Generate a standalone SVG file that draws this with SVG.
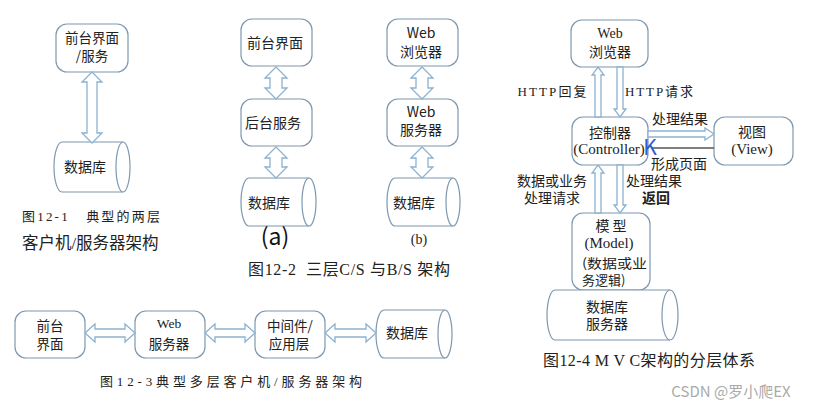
<svg xmlns="http://www.w3.org/2000/svg" width="814" height="410" viewBox="0 0 814 410">
<style>
.box{fill:#fff;stroke:#7d98b0;stroke-width:1.2}
.cyl{fill:#fff;stroke:#7d98b0;stroke-width:1.2}
.arr{fill:#fff;stroke:#8db2d0;stroke-width:1.3;stroke-linejoin:miter}
.ln{fill:none;stroke:#555;stroke-width:1.3}
text{font-family:"Noto Sans CJK SC","Liberation Sans",sans-serif;fill:#222;text-anchor:middle}
.t{font-size:14px}
.u{font-size:13.5px}
.s{font-family:"Liberation Serif","Noto Sans CJK SC",serif}
.cap{font-family:"Liberation Serif","Noto Sans CJK SC",serif;text-anchor:start;white-space:pre}
</style>
<rect width="814" height="410" fill="#fff"/>

<!-- Figure 12-1 -->
<g id="f1-front"><rect class="box" x="56" y="24" width="72" height="48" rx="11"/>
<text class="u" x="92" y="43">前台界面</text><text class="u" x="92" y="61">/服务</text></g>
<g id="f1-db"><path class="cyl" d="M62,142 L123,142 A7,25 0 0 1 123,192 L62,192 A8,25 0 0 1 62,142 Z"/>
<path class="cyl" fill="none" d="M123,142 A7,25 0 0 0 123,192"/>
<text class="t" x="85" y="172">数据库</text></g>
<text class="cap" x="22" y="221" font-size="13" xml:space="preserve" textLength="138" lengthAdjust="spacing">图12-1   典型的两层</text>
<text class="cap" x="22" y="249" font-size="16.5">客户机/服务器架构</text>

<!-- Figure 12-2a -->
<g id="f2a-front"><rect class="box" x="241" y="19" width="71" height="47" rx="11"/><text class="t" x="275" y="48">前台界面</text></g>
<g id="f2a-back"><rect class="box" x="241" y="99" width="71" height="47" rx="11"/><text class="t" x="273" y="128">后台服务</text></g>
<g id="f2a-db"><path class="cyl" d="M249,178 L309,178 A7,24 0 0 1 309,226 L249,226 A8,24 0 0 1 249,178 Z"/>
<path class="cyl" fill="none" d="M309,178 A7,24 0 0 0 309,226"/><text class="t" x="269" y="208">数据库</text></g>
<text x="275" y="245" font-size="23" font-family="Liberation Sans,sans-serif" style="fill:#111">(a)</text>

<!-- Figure 12-2b -->
<g id="f2b-browser"><rect class="box" x="387" y="19" width="71" height="47" rx="11"/>
<text class="t" x="421" y="38" font-family="Liberation Sans,sans-serif">Web</text><text class="t" x="421" y="57">浏览器</text></g>
<g id="f2b-server"><rect class="box" x="387" y="99" width="71" height="47" rx="11"/>
<text class="t" x="421" y="117" font-family="Liberation Sans,sans-serif">Web</text><text class="t" x="421" y="135">服务器</text></g>
<g id="f2b-db"><path class="cyl" d="M395,178 L453,178 A7,24 0 0 1 453,226 L395,226 A8,24 0 0 1 395,178 Z"/>
<path class="cyl" fill="none" d="M453,178 A7,24 0 0 0 453,226"/><text class="t" x="414" y="208">数据库</text></g>
<text class="s" x="419" y="244" font-size="14">(b)</text>
<text class="cap" x="248" y="275" font-size="16" xml:space="preserve" textLength="202" lengthAdjust="spacing">图12-2  三层C/S 与B/S 架构</text>

<!-- Figure 12-3 -->
<g id="f3-front"><rect class="box" x="15" y="311" width="70" height="47" rx="11"/>
<text class="u" x="50" y="331">前台</text><text class="u" x="50" y="349">界面</text></g>
<g id="f3-web"><rect class="box" x="135" y="311" width="70" height="47" rx="11"/>
<text class="u s" x="169" y="328">Web</text><text class="u" x="169" y="349">服务器</text></g>
<g id="f3-mid"><rect class="box" x="255" y="311" width="70" height="47" rx="11"/>
<text class="u" x="290" y="331">中间件/</text><text class="u" x="289" y="349">应用层</text></g>
<g id="f3-db"><path class="cyl" d="M384,310 L445,310 A7,24 0 0 1 445,358 L384,358 A8,24 0 0 1 384,310 Z"/>
<path class="cyl" fill="none" d="M445,310 A7,24 0 0 0 445,358"/><text class="t" x="407" y="338">数据库</text></g>
<text class="cap" x="100" y="386" font-size="13" textLength="262" lengthAdjust="spacing">图12-3典型多层客户机/服务器架构</text>

<!-- Figure 12-4 MVC -->
<g id="mvc-browser"><rect class="box" x="571" y="20" width="77" height="47" rx="11"/>
<text class="t s" x="610" y="38" font-size="15">Web</text><text class="t" x="610" y="57">浏览器</text></g>
<g id="mvc-controller"><rect class="box" x="572" y="117" width="76" height="48" rx="11"/>
<text class="t" x="610" y="138">控制器</text><text class="s" x="609" y="154" font-size="15">(Controller)</text></g>
<g id="mvc-view"><rect class="box" x="714" y="117" width="79" height="48" rx="11"/>
<text class="t" x="752" y="137">视图</text><text class="s" x="752" y="154" font-size="15">(View)</text></g>
<g id="mvc-model"><rect class="box" x="572" y="213" width="78" height="77" rx="11"/>
<text class="t" x="611" y="231">模 型</text><text class="s" x="609" y="248" font-size="15">(Model)</text>
<text x="582" y="268" font-size="13" style="text-anchor:start" textLength="65" lengthAdjust="spacingAndGlyphs">(数据或业</text><text x="582" y="285" font-size="13" style="text-anchor:start">务逻辑)</text></g>
<g id="mvc-db"><path class="cyl" d="M555,290 L670,290 A8,25 0 0 1 670,340 L555,340 A8,25 0 0 1 555,290 Z"/>
<path class="cyl" fill="none" d="M670,290 A8,25 0 0 0 670,340"/>
<text class="t" x="607" y="312">数据库</text><text class="t" x="607" y="329">服务器</text></g>

<g id="connectors">
<!-- 12-1 -->
<polygon class="arr" points="92,72 102,82 97,82 97,133 102,133 92,143 82,133 87,133 87,82 82,82"/>
<!-- 12-2a -->
<polygon class="arr" points="276,67 287,78 282,78 282,88 287,88 276,99 265,88 270,88 270,78 265,78"/>
<polygon class="arr" points="276,147 287,158 282,158 282,167 287,167 276,178 265,167 270,167 270,158 265,158"/>
<!-- 12-2b -->
<polygon class="arr" points="422,67 433,78 428,78 428,88 433,88 422,99 411,88 416,88 416,78 411,78"/>
<polygon class="arr" points="422,147 433,158 428,158 428,167 433,167 422,178 411,167 416,167 416,158 411,158"/>
<!-- 12-3 -->
<polygon class="arr" points="85,333 95,324 95,329 125,329 125,324 135,333 125,342 125,337 95,337 95,342"/>
<polygon class="arr" points="205,333 215,324 215,329 245,329 245,324 255,333 245,342 245,337 215,337 215,342"/>
<polygon class="arr" points="325,333 335,324 335,329 366,329 366,324 376,333 366,342 366,337 335,337 335,342"/>
<!-- MVC -->
<polygon class="arr" points="598,67 604,75 601,75 601,117 595,117 595,75 592,75"/>
<polygon class="arr" points="620,117 626,109 623,109 623,67 617,67 617,109 614,109"/>
<polygon class="arr" points="598,165 604,173 601,173 601,213 595,213 595,173 592,173"/>
<polygon class="arr" points="620,213 626,205 623,205 623,165 617,165 617,205 614,205"/>
<polygon class="arr" points="714,134 705,128 705,131 648,131 648,137 705,137 705,140"/>
<line class="ln" x1="714" y1="148" x2="652" y2="148"/>
</g>
<text x="650" y="155" font-size="21" font-family="Liberation Serif,serif" style="fill:#2a5bd0">K</text>

<text class="s" x="552" y="96" font-size="13" textLength="69" lengthAdjust="spacing">HTTP回复</text>
<text class="s" x="659" y="96" font-size="13" textLength="68" lengthAdjust="spacing">HTTP请求</text>
<text class="t" x="680" y="124">处理结果</text>
<text class="t" x="679" y="169">形成页面</text>
<text class="t" x="552" y="186">数据或业务</text>
<text class="t" x="552" y="203">处理请求</text>
<text class="t" x="654" y="186">处理结果</text>
<text class="t" x="656" y="203" font-weight="bold">返回</text>
<text class="cap" x="543" y="366" font-size="16" textLength="212" lengthAdjust="spacing">图12-4 M V C架构的分层体系</text>
<text x="731" y="397" font-size="15" style="fill:#aaa">CSDN @罗小爬EX</text>
</svg>
